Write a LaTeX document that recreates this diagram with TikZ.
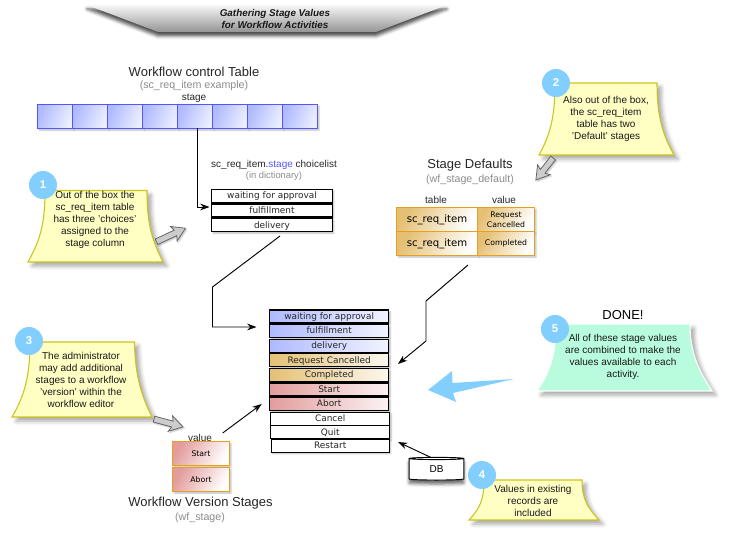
\documentclass[tikz,border=0pt]{standalone}
\usepackage{fontspec}
\setmainfont{Liberation Sans}
\newfontfamily\rowfont{DejaVu Sans}
\definecolor{BoxBlue}{RGB}{175, 186, 255}
\definecolor{PaleBlue}{RGB}{236, 239, 255}
\definecolor{CellLine}{RGB}{85, 85, 255}
\definecolor{Gold}{RGB}{229, 192, 116}
\definecolor{GoldLine}{RGB}{229, 160, 32}
\definecolor{Rose}{RGB}{227, 156, 156}
\definecolor{NoteFill}{RGB}{255, 255, 196}
\definecolor{NoteLine}{RGB}{204, 196, 28}
\definecolor{Badge}{RGB}{130, 207, 255}
\definecolor{Mint}{RGB}{185, 252, 221}
\usetikzlibrary{arrows.meta, positioning, shapes.geometric, shadows.blur}

\begin{document}
\begin{tikzpicture}[x=0.75pt, y=-0.75pt,
        node distance=1.2pt,
        softshadow/.style={blur shadow={shadow xshift=1.2pt, shadow yshift=-1.2pt, shadow blur radius=1pt, shadow opacity=25}},
        heading/.style={font=\fontsize{9.75}{11}\selectfont, text=black!85},
        subhead/.style={font=\fontsize{8}{9}\selectfont, text=black!45},
        small/.style={font=\fontsize{7.5}{9}\selectfont, text=black!85},
        cell/.style={rectangle, draw=CellLine, thick, left color=BoxBlue, right color=PaleBlue, shading angle=70, minimum width=26.25pt, minimum height=18pt, inner sep=0pt, outer sep=0pt, softshadow},
        row/.style={rectangle, draw=black, line width=0.9pt, minimum width=89.5pt, minimum height=9.75pt, inner sep=0pt, outer sep=0pt, text height=5.5pt, text depth=1.2pt, font=\rowfont\fontsize{6.7}{7}\selectfont, text=black!85, fill=white, softshadow},
        bluerow/.style={row, left color=BoxBlue, right color=PaleBlue!70!white},
        goldrow/.style={row, left color=Gold, right color=Gold!12!white},
        roserow/.style={row, left color=Rose, right color=Rose!12!white},
        goldcell/.style={rectangle, draw=GoldLine, thick, left color=Gold, right color=white, shading angle=60, inner sep=0pt, outer sep=0pt, minimum height=18pt, align=center, softshadow, font=\rowfont\fontsize{5.8}{7.5}\selectfont},
        rosecell/.style={rectangle, draw=GoldLine, thick, left color=Rose, right color=white, shading angle=60, inner sep=0pt, outer sep=0pt, minimum width=42.75pt, minimum height=18pt, softshadow, font=\rowfont\fontsize{5.8}{7}\selectfont},
        note/.style={draw=NoteLine, thick, fill=NoteFill, blur shadow={shadow xshift=3pt, shadow yshift=-3pt, shadow blur radius=3pt, shadow opacity=35}},
        notetext/.style={align=center, font=\fontsize{7.5}{9}\selectfont, text=black!90},
        badge/.style={circle, fill=Badge, text=white, minimum size=21pt, inner sep=0pt, font=\bfseries\fontsize{8.5}{9}\selectfont},
        blockarrow/.style={draw=black!60, line width=0.6pt, fill=black!20, blur shadow={shadow xshift=1pt, shadow yshift=-1pt, shadow blur radius=1pt, shadow opacity=25}},
        arrow/.style={-{Stealth[length=7pt, width=5pt]}, line width=0.7pt}
    ]
        \useasboundingbox (0,0) rectangle (733,541);

        % banner
        \path[top color=black!3, bottom color=black!42, blur shadow={shadow xshift=0pt, shadow yshift=-3pt, shadow blur radius=2.5pt, shadow opacity=70}] (87,5) -- (447,5) -- (376,32) -- (158,32) -- cycle;
        \node[font=\bfseries\itshape\fontsize{7.4}{9}\selectfont, align=center, text=black!90] (banner) at (275,19) {Gathering Stage Values\\for Workflow Activities};

        % control table
        \node[heading] (tabletitle) at (194,72) {Workflow control Table};
        \node[subhead] (tablesub) at (194,85.5) {(sc\_req\_item example)};
        \node[small] (stagelabel) at (194,98) {stage};
        \node[cell] (cell1) at (55,116.5) {};
        \node[cell, right=0pt of cell1] (cell2) {};
        \node[cell, right=0pt of cell2] (cell3) {};
        \node[cell, right=0pt of cell3] (cell4) {};
        \node[cell, right=0pt of cell4] (cell5) {};
        \node[cell, right=0pt of cell5] (cell6) {};
        \node[cell, right=0pt of cell6] (cell7) {};
        \node[cell, right=0pt of cell7] (cell8) {};

        % choicelist
        \node[small] (choicetitle) at (274,165) {sc\_req\_item.\textcolor{CellLine}{stage} choicelist};
        \node[subhead, font=\fontsize{7}{8}\selectfont] (choicesub) at (274,176) {(in dictionary)};
        \node[row, minimum width=90.5pt] (waiting) at (272,196) {waiting for approval};
        \node[row, minimum width=90.5pt, below=of waiting] (fulfil) {fulfillment};
        \node[row, minimum width=90.5pt, below=of fulfil] (delivery) {delivery};

        % stage defaults
        \node[heading] (deftitle) at (470,165.5) {Stage Defaults};
        \node[subhead] (defsub) at (470,180) {(wf\_stage\_default)};
        \node[small] (deftable) at (436,199.5) {table};
        \node[small] (defvalue) at (504,199.5) {value};
        \node[goldcell, minimum width=60.75pt, font=\rowfont\fontsize{7.6}{8}\selectfont] (defa) at (437,219.5) {sc\_req\_item};
        \node[goldcell, minimum width=42.75pt, right=0pt of defa] (defb) {Request\\Cancelled};
        \node[goldcell, minimum width=60.75pt, font=\rowfont\fontsize{7.6}{8}\selectfont, below=0pt of defa] (defc) {sc\_req\_item};
        \node[goldcell, minimum width=42.75pt, right=0pt of defc] (defd) {Completed};

        % combined list
        \node[bluerow] (mwaiting) at (329.2,316.5) {waiting for approval};
        \node[bluerow, below=of mwaiting] (mfulfil) {fulfillment};
        \node[bluerow, below=of mfulfil] (mdelivery) {delivery};
        \node[goldrow, below=of mdelivery] (mrequest) {Request Cancelled};
        \node[goldrow, below=of mrequest] (mcompleted) {Completed};
        \node[roserow, below=of mcompleted] (mstart) {Start};
        \node[roserow, below=of mstart] (mabort) {Abort};
        \node[row, below=of mabort, xshift=0.75pt] (mcancel) {Cancel};
        \node[row, below=0.4pt of mcancel] (mquit) {Quit};
        \node[row, below=0.4pt of mquit, minimum width=88.5pt] (mrestart) {Restart};

        % version stages
        \node[small] (verlabel) at (200,438) {value};
        \node[rosecell] (verstart) at (201,453.5) {Start};
        \node[rosecell, below=1.5pt of verstart] (verabort) {Abort};
        \node[heading] (vertitle) at (200.5,503) {Workflow Version Stages};
        \node[subhead] (versub) at (200,518) {(wf\_stage)};

        % db
        \node[cylinder, shape border rotate=90, aspect=0.16, draw=black, line width=0.7pt, fill=white, minimum width=41pt, minimum height=17pt, inner sep=0pt, font=\fontsize{7.5}{9}\selectfont, blur shadow={shadow xshift=0pt, shadow yshift=-3pt, shadow blur radius=2.5pt, shadow opacity=60}] (db) at (436.5,469.5) {DB};

        % notes
        \draw[note] (45,190.5) .. controls (45,225) and (40,240) .. (28,262) -- (163,262) .. controls (152,240) and (147,225) .. (147,190.5) -- cycle;
        \node[notetext] (note1) at (95,220) {Out of the box the\\sc\_req\_item table\\has three 'choices'\\assigned to the\\stage column};
        \node[badge] (badge1) at (43,185) {1};

        \draw[note] (555,83) .. controls (555,118) and (550,135) .. (539,155) -- (674,155) .. controls (663,135) and (657,118) .. (657,83) -- cycle;
        \node[notetext] (note2) at (606,119) {Also out of the box,\\the sc\_req\_item\\table has two\\'Default' stages};
        \node[badge] (badge2) at (556,83) {2};

        \draw[note] (30,342) .. controls (30,375) and (25,395) .. (12,417) -- (152,417) .. controls (141,395) and (135,375) .. (134.5,342) -- cycle;
        \node[notetext] (note3) at (81,380) {The administrator\\may add additional\\stages to a workflow\\'version' within the\\workflow editor};
        \node[badge] (badge3) at (29,341) {3};

        \draw[note] (484,480) .. controls (484,500) and (480,508) .. (469,520) -- (599,520) .. controls (588,508) and (582,500) .. (582,480) -- cycle;
        \node[notetext] (note4) at (533,501) {Values in existing\\records are\\included};
        \node[badge] (badge4) at (482,475) {4};

        \draw[note, draw=white, fill=Mint] (556,324) .. controls (556,355) and (550,372) .. (537,391) -- (712,391) .. controls (700,372) and (690,355) .. (690,324) -- cycle;
        \node[notetext] (note5) at (623,357) {All of these stage values\\are combined to make the\\values available to each\\activity.};
        \node[badge] (badge5) at (555,329) {5};
        \node[heading, text=black] (done) at (623,315) {DONE!};

        % block arrows
        \draw[blockarrow, shift={(171,235)}, rotate=25] (16,0) -- (3,-8) -- (5,-3) -- (-16,-3) -- (-16,3) -- (5,3) -- (3,8) -- cycle;
        \draw[blockarrow, shift={(544.5,169)}, rotate=232] (14,0) -- (1,-8) -- (3,-3) -- (-14,-3) -- (-14,3) -- (3,3) -- (1,8) -- cycle;
        \draw[blockarrow, shift={(168.5,423)}, rotate=-15] (15,0) -- (2,-8) -- (4,-3) -- (-15,-3) -- (-15,3) -- (4,3) -- (2,8) -- cycle;
        \fill[Badge] (428,390) -- (452,371) -- (452.5,383) -- (514,379) -- (453,393) -- (456,402) -- cycle;

        % connectors
        \coordinate (fromcell) at (197,128.5);
        \coordinate (intofulfil) at (209.5,207);
        \coordinate (fromchoice) at (280,236);
        \coordinate (choicebend) at (212.5,287);
        \coordinate (intoblue) at (256.5,327);
        \coordinate (fromdefaults) at (468,265);
        \coordinate (defbend) at (426,301);
        \coordinate (defbendb) at (426,341);
        \coordinate (intogold) at (398,364);
        \coordinate (fromversion) at (222.7,433);
        \coordinate (intorose) at (261.7,404);
        \coordinate (fromdb) at (431,457.5);
        \coordinate (intorestart) at (398,442);
        \draw[arrow] (fromcell) |- (intofulfil);
        \draw[arrow] (fromchoice) -- (choicebend) |- (intoblue);
        \draw[arrow] (fromdefaults) -- (defbend) -- (defbendb) -- (intogold);
        \draw[arrow] (fromversion) -- (intorose);
        \draw[arrow] (fromdb) -- (intorestart);
    \end{tikzpicture}
\end{document}
